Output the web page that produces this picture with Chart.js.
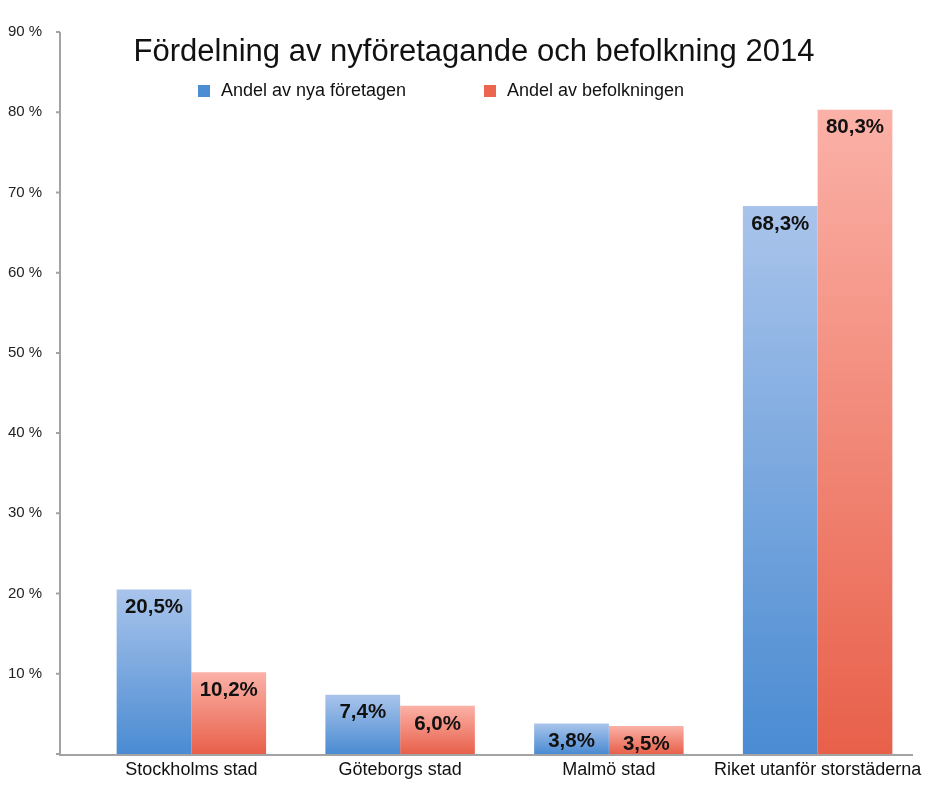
<!DOCTYPE html>
<html>
<head>
<meta charset="utf-8">
<script src="https://cdn.jsdelivr.net/npm/chart.js@4/dist/chart.umd.min.js"></script>
<style>
  html, body { margin: 0; padding: 0; background: #ffffff; }
  #wrap { width: 940px; height: 796px; position: relative; }
</style>
</head>
<body>
<div id="wrap"><canvas id="c" width="940" height="796"></canvas></div>
<script>
const categories = ['Stockholms stad', 'Göteborgs stad', 'Malmö stad', 'Riket utanför storstäderna'];
const newBusinessShare = [20.5, 7.4, 3.8, 68.3];
const populationShare = [10.2, 6.0, 3.5, 80.3];
const seriesNames = ['Andel av nya företagen', 'Andel av befolkningen'];
const chartTitle = 'Fördelning av nyföretagande och befolkning 2014';
const yMax = 90;
const yStep = 10;

const FONT = '"Liberation Sans", Arial, sans-serif';

function gradientFill(topColor, bottomColor) {
  return function (ctx) {
    const chart = ctx.chart;
    if (!chart.chartArea || ctx.type !== 'data') return bottomColor;
    const v = ctx.dataset.data[ctx.dataIndex];
    const ys = chart.scales.y;
    const yTop = ys.getPixelForValue(v);
    const yBase = ys.getPixelForValue(0);
    const g = chart.ctx.createLinearGradient(0, yTop, 0, yBase);
    g.addColorStop(0, topColor);
    g.addColorStop(1, bottomColor);
    return g;
  };
}

const axisPlugin = {
  id: 'axisLines',
  afterDraw(chart) {
    const c = chart.ctx;
    const ys = chart.scales.y;
    const axisX = 60;
    const yBottom = ys.getPixelForValue(0) + 1;
    const yTop = ys.getPixelForValue(yMax);
    c.save();
    c.strokeStyle = '#a3a3a3';
    c.lineWidth = 2;
    c.beginPath();
    c.moveTo(axisX, yTop);
    c.lineTo(axisX, yBottom);
    c.moveTo(axisX - 1, yBottom);
    c.lineTo(913, yBottom);
    for (let v = 0; v <= yMax; v += yStep) {
      const py = ys.getPixelForValue(v);
      c.moveTo(axisX - 4, py);
      c.lineTo(axisX, py);
    }
    c.stroke();
    c.restore();
  }
};

const labelPlugin = {
  id: 'valueLabels',
  afterDatasetsDraw(chart) {
    const c = chart.ctx;
    c.save();
    c.font = 'bold 20.5px ' + FONT;
    c.fillStyle = '#111111';
    c.textAlign = 'center';
    c.textBaseline = 'middle';
    chart.data.datasets.forEach((ds, di) => {
      const meta = chart.getDatasetMeta(di);
      meta.data.forEach((el, i) => {
        const txt = ds.data[i].toFixed(1).replace('.', ',') + '%';
        c.fillText(txt, el.x, el.y + 18);
      });
    });
    c.restore();
  }
};

const headerPlugin = {
  id: 'header',
  afterDraw(chart) {
    const c = chart.ctx;
    c.save();
    c.fillStyle = '#111111';
    c.textAlign = 'center';
    c.textBaseline = 'middle';
    c.font = '31px ' + FONT;
    c.fillText(chartTitle, 474, 52);
    c.font = '18px ' + FONT;
    c.textAlign = 'left';
    const items = [
      { x: 198, color: '#4d8dd4', text: seriesNames[0] },
      { x: 484, color: '#eb654f', text: seriesNames[1] }
    ];
    items.forEach(it => {
      c.fillStyle = it.color;
      c.fillRect(it.x, 85, 12, 12);
      c.fillStyle = '#111111';
      c.fillText(it.text, it.x + 23, 91);
    });
    c.restore();
  }
};

new Chart(document.getElementById('c'), {
  type: 'bar',
  data: {
    labels: categories,
    datasets: [
      {
        label: seriesNames[0],
        data: newBusinessShare,
        backgroundColor: gradientFill('#a9c4eb', '#4a8bd2'),
        borderWidth: 0,
        categoryPercentage: 0.716,
        barPercentage: 1.0
      },
      {
        label: seriesNames[1],
        data: populationShare,
        backgroundColor: gradientFill('#fbb1a7', '#e8604a'),
        borderWidth: 0,
        categoryPercentage: 0.716,
        barPercentage: 1.0
      }
    ]
  },
  options: {
    responsive: false,
    animation: false,
    devicePixelRatio: 1,
    layout: { padding: { top: 32, right: 18, bottom: 0, left: 8 } },
    plugins: {
      legend: { display: false },
      title: { display: false },
      tooltip: { enabled: false }
    },
    scales: {
      x: {
        grid: { display: false, drawTicks: false },
        border: { display: false },
        ticks: {
          color: '#111111',
          font: { family: FONT, size: 18 },
          padding: 5,
          maxRotation: 0,
          autoSkip: false
        },
        afterFit(scale) { scale.height = 42; }
      },
      y: {
        min: 0,
        max: yMax,
        grid: { display: false, drawTicks: false },
        border: { display: false },
        ticks: {
          stepSize: yStep,
          color: '#222222',
          font: { family: FONT, size: 15 },
          padding: 0,
          crossAlign: 'far',
          callback: v => (v === 0 ? '' : v + ' %')
        },
        afterFit(scale) { scale.width = 79; }
      }
    }
  },
  plugins: [axisPlugin, labelPlugin, headerPlugin]
});
</script>
</body>
</html>
